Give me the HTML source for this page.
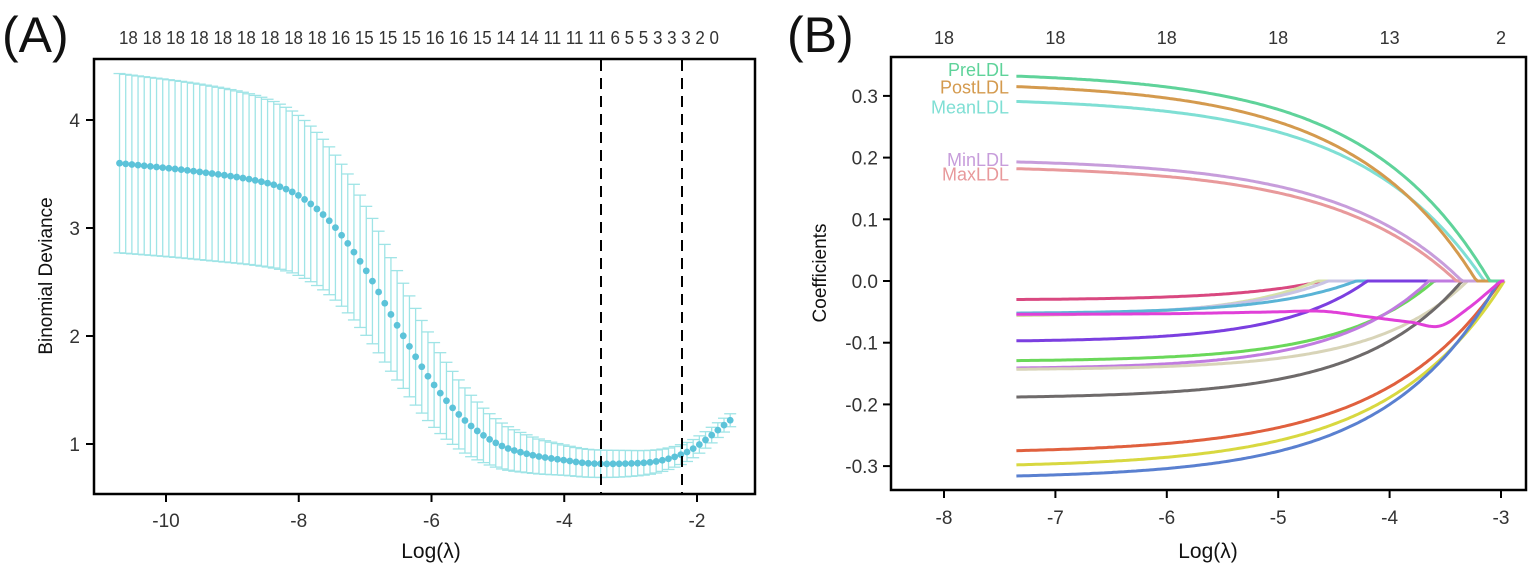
<!DOCTYPE html>
<html><head><meta charset="utf-8"><style>
html,body{margin:0;padding:0;background:#fff}
svg{display:block}
text{font-family:"Liberation Sans",sans-serif;fill:#333}
</style></head><body>
<svg id="s" width="1535" height="573" viewBox="0 0 1535 573" xmlns="http://www.w3.org/2000/svg">
<rect width="1535" height="573" fill="#fff"/>
<text x="2" y="52" font-size="50" style="fill:#111">(A)</text>
<text x="787" y="52" font-size="50" style="fill:#111">(B)</text>
<g id="A"></g><g id="B"></g>
<rect x="94" y="59" width="661" height="435" fill="none" stroke="#000" stroke-width="2.5"/>
<rect x="891" y="57" width="635" height="433" fill="none" stroke="#000" stroke-width="2.5"/>
<text x="419" y="44" font-size="18" textLength="600" lengthAdjust="spacingAndGlyphs" text-anchor="middle">18 18 18 18 18 18 18 18 18 16 15 15 15 16 16 15 14 14 11   11   11 6 5 5 3 3 3 2 0</text>
<text transform="translate(52,276) rotate(-90)" font-size="19" text-anchor="middle" style="fill:#111">Binomial Deviance</text>
<text x="431" y="558" font-size="21" text-anchor="middle" style="fill:#111">Log(λ)</text>
<text transform="translate(826,273) rotate(-90)" font-size="19" text-anchor="middle" style="fill:#111">Coefficients</text>
<text x="1208" y="558" font-size="21" text-anchor="middle" style="fill:#111">Log(λ)</text>
</svg>
<script>
var NS="http://www.w3.org/2000/svg";
function el(p,t,a,txt){var e=document.createElementNS(NS,t);for(var k in a)e.setAttribute(k,a[k]);if(txt!=null)e.textContent=txt;p.appendChild(e);return e;}
function interp(pts,x){var n=pts.length;if(x<=pts[0][0])return pts[0][1];if(x>=pts[n-1][0])return pts[n-1][1];
for(var i=1;i<n;i++){if(x<=pts[i][0]){var p1=pts[i-1],p2=pts[i],p0=pts[Math.max(0,i-2)],p3=pts[Math.min(n-1,i+1)];
var h=p2[0]-p1[0],t=(x-p1[0])/h;
var m1=(p2[1]-p0[1])/(p2[0]-p0[0])*h,m2=(p3[1]-p1[1])/(p3[0]-p1[0])*h;
var t2=t*t,t3=t2*t;return (2*t3-3*t2+1)*p1[1]+(t3-2*t2+t)*m1+(-2*t3+3*t2)*p2[1]+(t3-t2)*m2;}}}
var A=document.getElementById('A'),B=document.getElementById('B');
function ax(v){return 166+(v+10)*66.375;} function ay(v){return 444-(v-1)*108;}
var mp=[[-10.7,3.6],[-9.5,3.52],[-8.5,3.42],[-8,3.3],[-7.5,3.04],[-7,2.62],[-6.5,2.08],[-6,1.58],[-5.5,1.22],[-5,1.0],[-4.5,0.9],[-4,0.85],[-3.6,0.82],[-3,0.82],[-2.6,0.84],[-2.25,0.9],[-2,0.98],[-1.5,1.22]];
var hp=[[-10.7,0.83],[-9,0.8],[-8,0.74],[-7,0.6],[-6,0.4],[-5,0.22],[-4,0.14],[-3,0.12],[-2.2,0.09],[-1.5,0.06]];
var N=100,dots=[];
for(var i=0;i<N;i++){var x=-10.7+i*(9.2/(N-1)),m=interp(mp,x),h=interp(hp,x),X=ax(x);
el(A,'line',{x1:X,x2:X,y1:ay(m+h),y2:ay(m-h),stroke:'#9fe4e6','stroke-width':1.3});
el(A,'line',{x1:X-6,x2:X+6,y1:ay(m+h),y2:ay(m+h),stroke:'#9fe4e6','stroke-width':1.3});
el(A,'line',{x1:X-6,x2:X+6,y1:ay(m-h),y2:ay(m-h),stroke:'#9fe4e6','stroke-width':1.3});
dots.push([X,ay(m)]);}
dots.forEach(function(d){el(A,'circle',{cx:d[0],cy:d[1],r:3.4,fill:'#5cc3d9'});});
[601,682].forEach(function(X){el(A,'line',{x1:X,x2:X,y1:60,y2:493,stroke:'#000','stroke-width':2,'stroke-dasharray':'11,7'});});
[1,2,3,4].forEach(function(v){var Y=ay(v);el(A,'line',{x1:86,x2:94,y1:Y,y2:Y,stroke:'#000','stroke-width':2});el(A,'text',{x:80,y:Y+7,'font-size':19,'text-anchor':'end'},v);});
[-10,-8,-6,-4,-2].forEach(function(v){var X=ax(v);el(A,'line',{x1:X,x2:X,y1:494,y2:502,stroke:'#000','stroke-width':2});el(A,'text',{x:X,y:527,'font-size':19,'text-anchor':'middle'},v);});
function bx(v){return 1501+(v+3)*111.4;} function by(v){return 281-v*617;}
[-8,-7,-6,-5,-4,-3].forEach(function(v){var X=bx(v);el(B,'line',{x1:X,x2:X,y1:490,y2:498,stroke:'#000','stroke-width':2});el(B,'text',{x:X,y:524,'font-size':19,'text-anchor':'middle'},v);});
[['18',-8],['18',-7],['18',-6],['18',-5],['13',-4],['2',-3]].forEach(function(t){el(B,'text',{x:bx(t[1]),y:44,'font-size':18,'text-anchor':'middle'},t[0]);});
[0.3,0.2,0.1,0,-0.1,-0.2,-0.3].forEach(function(v){var Y=by(v);el(B,'line',{x1:883,x2:891,y1:Y,y2:Y,stroke:'#000','stroke-width':2});el(B,'text',{x:878,y:Y+7,'font-size':19,'text-anchor':'end'},v.toFixed(1));});
var xs=-7.35,xend=-2.97;
var L=[[-0.030,-4.6,'#d94880',1.3],[-0.056,-4.65,'#d6e0a8',1.3],[-0.054,-4.55,'#c8c4e4',1.3],[-0.052,-4.3,'#5ab4d6',1.3],[-0.097,-4.2,'#7b3fe0',1.3],[-0.129,-3.6,'#6ad85a',1.2],[-0.141,-3.65,'#c07be0',1.2],[-0.143,-3.3,'#d8d4b8',1.2],[-0.188,-3.35,'#6e6a6a',1.1],[-0.275,-3.0,'#e0603e',0.95],[-0.298,-2.97,'#d8d840',0.95],[-0.316,-3.02,'#5a80d0',1.0],
[0.182,-3.4,'#e8999b',0.9],[0.193,-3.35,'#c79ddb',0.9],[0.291,-3.15,'#7fdfd4',0.9],[0.315,-3.22,'#d49a4e',0.9],[0.332,-3.1,'#5fd39a',0.9]];
function path(fn){var d='';for(var i=0;i<=200;i++){var x=xs+(xend-xs)*i/200;d+=(i?'L':'M')+bx(x).toFixed(1)+','+by(fn(x)).toFixed(1);}return d;}
L.forEach(function(l){var c0=l[0],xe=l[1],k=l[3];var den=1-Math.exp(k*(xs-xe));
el(B,'path',{d:path(function(x){return x>=xe?0:c0*(1-Math.exp(k*(x-xe)))/den;}),fill:'none',stroke:l[2],'stroke-width':3});});
var mg=[[-7.35,-0.054],[-6,-0.053],[-5,-0.05],[-4.6,-0.049],[-4.2,-0.058],[-3.8,-0.067],[-3.55,-0.073],[-3.3,-0.045],[-3.0,0]];
el(B,'path',{d:path(function(x){return interp(mg,x);}),fill:'none',stroke:'#e040d8','stroke-width':3});
[['PreLDL',0.332,'#5fd39a',-6],['PostLDL',0.315,'#d49a4e',1],['MeanLDL',0.291,'#7fdfd4',6],['MinLDL',0.193,'#c79ddb',-2],['MaxLDL',0.182,'#e8999b',6]].forEach(function(t){el(B,'text',{x:1009,y:by(t[1])+t[3]+6,'font-size':18,'text-anchor':'end',style:'fill:'+t[2]},t[0]);});
</script>
</body></html>
